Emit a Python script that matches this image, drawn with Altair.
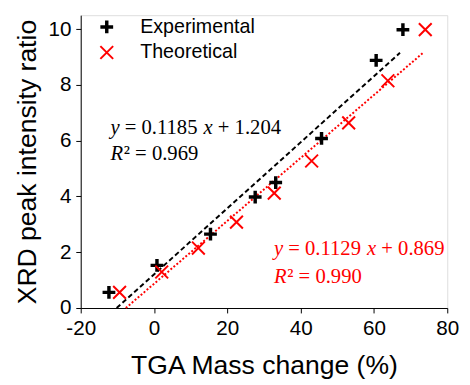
import altair as alt
import pandas as pd

# ---- data ----
series = ["Experimental", "Theoretical"]
colors = ["#000000", "#ff0000"]

exp_x = [-12.3, 0.8, 15.4, 27.6, 33.2, 45.7, 60.6, 67.9]
exp_y = [0.56, 1.53, 2.65, 3.98, 4.50, 6.08, 8.88, 9.98]
theo_x = [-9.4, 2.1, 12.1, 22.5, 32.8, 43.0, 53.1, 63.8, 74.0]
theo_y = [0.56, 1.29, 2.15, 3.08, 4.12, 5.27, 6.64, 8.15, 9.98]

fit_exp_x = [-10.2, 67.1]
fit_exp_y = [0.0, 9.15]
fit_theo_x = [-7.7, 73.4]
fit_theo_y = [0.0, 9.15]

eq_anchor_x = [-11.9, 32.7]
eq_anchor_y = [6.25, 1.91]
r2_anchor_y = [5.29, 0.88]
slopes = ["0.1185", "0.1129"]
intercepts = ["1.204", "0.869"]
r2_values = ["0.969", "0.990"]

x_ticks = list(range(-20, 81, 10))
y_ticks = list(range(0, 11, 1))

# ---- tables ----
pts = pd.DataFrame({
    "x": exp_x + theo_x,
    "y": exp_y + theo_y,
    "series": [series[0]] * len(exp_x) + [series[1]] * len(theo_x),
})
fit_exp = pd.DataFrame({"x": fit_exp_x, "y": fit_exp_y})
fit_theo = pd.DataFrame({"x": fit_theo_x, "y": fit_theo_y})
eq = pd.DataFrame({
    "ax": eq_anchor_x,
    "ay": eq_anchor_y,
    "ry": r2_anchor_y,
    "col": colors,
    "eqtxt": ["= " + s for s in slopes],
    "ctxt": ["+ " + c for c in intercepts],
    "r2txt": ["\u00b2 = " + r for r in r2_values],
})

SANS = "Liberation Sans"
SERIF = "Liberation Serif"

xscale = alt.Scale(domain=[-20, 80], nice=False, zero=False)
yscale = alt.Scale(domain=[0, 10.5], nice=False, zero=False)

xaxis = alt.Axis(
    values=x_ticks,
    labelExpr="datum.value % 20 == 0 ? '' + datum.value : ''",
    tickSize={"condition": {"test": "datum.value % 20 != 0", "value": 3}, "value": 5},
    grid=False,
    title="TGA Mass change (%)",
    titleFont=SANS, titleFontSize=27, titleFontWeight="normal", titleColor="#000000",
    titleX=186.5, titleY=67, titleBaseline="alphabetic", titleAlign="center",
    labelFont=SANS, labelFontSize=21, labelColor="#000000", labelPadding=5,
    labelFlush=False, labelOverlap=False,
    tickColor="#000000", domainColor="#000000", domainWidth=1, tickWidth=1,
)
yaxis = alt.Axis(
    values=y_ticks,
    labelExpr="datum.value % 2 == 0 ? '' + datum.value : ''",
    tickSize={"condition": {"test": "datum.value % 2 != 0", "value": 3}, "value": 5},
    grid=False,
    title="XRD peak intensity ratio",
    titleFont=SANS, titleFontSize=27, titleFontWeight="normal", titleColor="#000000",
    titleX=-46.5, titleY=149, titleBaseline="alphabetic", titleAlign="center", titleAngle=270,
    labelFont=SANS, labelFontSize=21, labelColor="#000000", labelPadding=5,
    labelFlush=False, labelOverlap=False,
    tickColor="#000000", domainColor="#000000", domainWidth=1, tickWidth=1,
)

plus = "M-1,0L1,0M0,-1L0,1"
cross = "M-1,-1L1,1M-1,1L1,-1"

leg = alt.Legend(
    title=None, orient="none", legendX=16.5, legendY=2,
    labelFont=SANS, labelFontSize=20, labelColor="#000000",
    symbolSize=169, labelOffset=24, rowPadding=1, padding=0,
)

points = alt.Chart(pts).mark_point(filled=False, opacity=1, size=169).encode(
    x=alt.X("x:Q", scale=xscale, axis=xaxis),
    y=alt.Y("y:Q", scale=yscale, axis=yaxis),
    color=alt.Color("series:N", scale=alt.Scale(domain=series, range=colors), legend=leg),
    shape=alt.Shape("series:N", scale=alt.Scale(domain=series, range=[plus, cross]), legend=leg),
    strokeWidth=alt.StrokeWidth("series:N", scale=alt.Scale(domain=series, range=[3.5, 2.0]), legend=leg),
)

line_exp = alt.Chart(fit_exp).mark_line(color="#000000", strokeWidth=2, strokeDash=[5, 3]).encode(
    x=alt.X("x:Q", scale=xscale), y=alt.Y("y:Q", scale=yscale)
)
line_theo = alt.Chart(fit_theo).mark_line(color="#ff0000", strokeWidth=2, strokeDash=[2, 2]).encode(
    x=alt.X("x:Q", scale=xscale), y=alt.Y("y:Q", scale=yscale)
)

def frag(ycol, dx, italic, text=None, field=None):
    kw = dict(font=SERIF, fontSize=21, align="left", baseline="alphabetic", dx=dx)
    if italic:
        kw["fontStyle"] = "italic"
    if text is not None:
        kw["text"] = text
    enc = dict(
        x=alt.X("ax:Q", scale=xscale),
        y=alt.Y(ycol + ":Q", scale=yscale),
        color=alt.Color("col:N", scale=None),
    )
    if field is not None:
        enc["text"] = alt.Text(field + ":N")
    return alt.Chart(eq).mark_text(**kw).encode(**enc)

texts = [
    frag("ay", 0, True, text="y"),
    frag("ay", 14.6, False, field="eqtxt"),
    frag("ay", 94.7, True, text="x"),
    frag("ay", 109.3, False, field="ctxt"),
    frag("ry", 0, True, text="R"),
    frag("ry", 13.6, False, field="r2txt"),
]

chart = alt.layer(line_exp, line_theo, points, *texts).properties(
    width=373, height=298,
    autosize=alt.AutoSizeParams(type="none"),
    padding={"left": 74, "top": 4, "right": 15, "bottom": 73},
).configure_view(stroke=None).configure(background="white")

chart.save("out.html", embed_options={"renderer": "svg", "actions": False})
